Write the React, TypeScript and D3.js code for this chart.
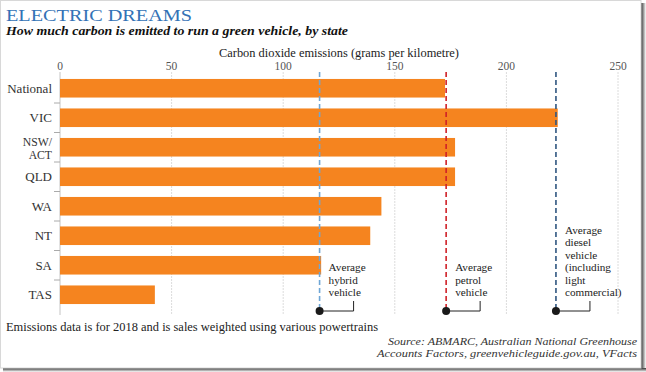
import React from "react";
import * as d3 from "d3";

const categories = ["National", "VIC", "NSW/ACT", "QLD", "WA", "NT", "SA", "TAS"];
const values = [172.5, 223, 177, 177, 144, 139, 117, 42.5];
const xTicks = [0, 50, 100, 150, 200, 250];
const refNames = ["hybrid", "petrol", "diesel"];
const refValues = [116.3, 173, 222.2];
const refLabels = [
  ["Average", "hybrid", "vehicle"],
  ["Average", "petrol", "vehicle"],
  ["Average", "diesel", "vehicle", "(including", "light", "commercial)"],
];
const refColors = ["#6ea6d6", "#cf2027", "#2f5680"];

const W = 646;
const H = 372;

export default function App() {
  const x = d3.scaleLinear().domain([0, 250]).range([60, 618]);
  const y = d3
    .scaleBand<string>()
    .domain(categories)
    .range([73.5, 309.5])
    .paddingInner(0.37)
    .paddingOuter(0.185);
  const bw = y.bandwidth();
  const step = y.step();
  const serif = "'Liberation Serif', 'Times New Roman', 'DejaVu Serif', serif";
  const lineTop = 72;
  const dotY = 311;

  return (
    <div style={{ position: "absolute", left: 0, top: 0 }}>
      <svg width={W} height={H} style={{ display: "block" }}>
        <defs>
          <linearGradient id="shR" x1="0" x2="1" y1="0" y2="0">
            <stop offset="0" stopColor="#333" />
            <stop offset="1" stopColor="#fff" />
          </linearGradient>
          <linearGradient id="shB" x1="0" x2="0" y1="0" y2="1">
            <stop offset="0" stopColor="#333" />
            <stop offset="1" stopColor="#fff" />
          </linearGradient>
        </defs>
        <rect x={0} y={0} width={W} height={H} fill="#fff" />
        <rect x={641} y={3} width={5} height={369} fill="url(#shR)" />
        <rect x={3} y={368} width={643} height={4} fill="url(#shB)" />
        <rect x={0.5} y={0.5} width={640.5} height={367.5} fill="#fff" stroke="#d8d8d8" strokeWidth={1} />

        <text x={6} y={21} fontFamily={serif} fontSize={17.5} fill="#3372b6" textLength={186} lengthAdjust="spacingAndGlyphs">
          ELECTRIC DREAMS
        </text>
        <text x={6} y={34.5} fontFamily={serif} fontSize={12.2} fontWeight="bold" fontStyle="italic" fill="#111" textLength={342} lengthAdjust="spacingAndGlyphs">
          How much carbon is emitted to run a green vehicle, by state
        </text>
        <text x={339} y={57} fontFamily={serif} fontSize={12.5} fill="#222" textAnchor="middle" textLength={240} lengthAdjust="spacingAndGlyphs">
          Carbon dioxide emissions (grams per kilometre)
        </text>

        {xTicks.map((t) => (
          <g key={t}>
            <text x={x(t)} y={70} fontFamily={serif} fontSize={11.5} fill="#555" textAnchor="middle">
              {t}
            </text>
            {t > 0 && (
              <line x1={x(t)} x2={x(t)} y1={lineTop} y2={315} stroke="#dcdcdc" strokeWidth={1} strokeDasharray="2 1" />
            )}
          </g>
        ))}

        <line x1={x(0)} x2={x(0)} y1={lineTop} y2={315} stroke="#c4c4c4" strokeWidth={1} />
        {categories.slice(1).map((c) => {
          const ty = (y(c) as number) - (step - bw) / 2;
          return <line key={"t" + c} x1={54} x2={x(0)} y1={ty} y2={ty} stroke="#aaa" strokeWidth={1} />;
        })}

        {categories.map((c, i) => (
          <rect key={c} x={x(0)} y={y(c)} width={x(values[i]) - x(0)} height={bw} fill="#f5841f" />
        ))}

        {categories.map((c) => {
          const cy = (y(c) as number) + bw / 2;
          const parts = c === "NSW/ACT" ? ["NSW/", "ACT"] : [c];
          return (
            <text key={"l" + c} fontFamily={serif} fontSize={parts.length === 1 ? 13 : 11.7} fill="#333" textAnchor="end">
              {parts.length === 1 ? (
                <tspan x={52} y={cy + 4.3}>{c}</tspan>
              ) : (
                <>
                  <tspan x={52} y={cy - 1.5}>{parts[0]}</tspan>
                  <tspan x={52} y={cy + 11.5}>{parts[1]}</tspan>
                </>
              )}
            </text>
          );
        })}

        {refNames.map((n, i) => {
          const rx = x(refValues[i]);
          const lines = refLabels[i];
          const lastY = 296;
          return (
            <g key={n}>
              <line x1={rx} x2={rx} y1={lineTop} y2={dotY} stroke={refColors[i]} strokeWidth={1.6} strokeDasharray="5 3" />
              <path d={`M${rx},${dotY}H${rx + 34}V${dotY - 10}`} fill="none" stroke="#222" strokeWidth={1} />
              <circle cx={rx} cy={dotY} r={4} fill="#1a1a1a" />
              <text fontFamily={serif} fontSize={11.2} fill="#222">
                {lines.map((s, k) => (
                  <tspan key={k} x={rx + 9} y={lastY - (lines.length - 1 - k) * 12.4}>
                    {s}
                  </tspan>
                ))}
              </text>
            </g>
          );
        })}

        <text x={6} y={331} fontFamily={serif} fontSize={13} fill="#222" textLength={372} lengthAdjust="spacingAndGlyphs">
          Emissions data is for 2018 and is sales weighted using various powertrains
        </text>
        <text fontFamily={serif} fontSize={10.8} fontStyle="italic" fill="#333" textAnchor="end">
          <tspan x={637} y={345} textLength={249} lengthAdjust="spacingAndGlyphs">Source: ABMARC, Australian National Greenhouse</tspan>
          <tspan x={637} y={357} textLength={260} lengthAdjust="spacingAndGlyphs">Accounts Factors, greenvehicleguide.gov.au, VFacts</tspan>
        </text>
      </svg>
    </div>
  );
}
